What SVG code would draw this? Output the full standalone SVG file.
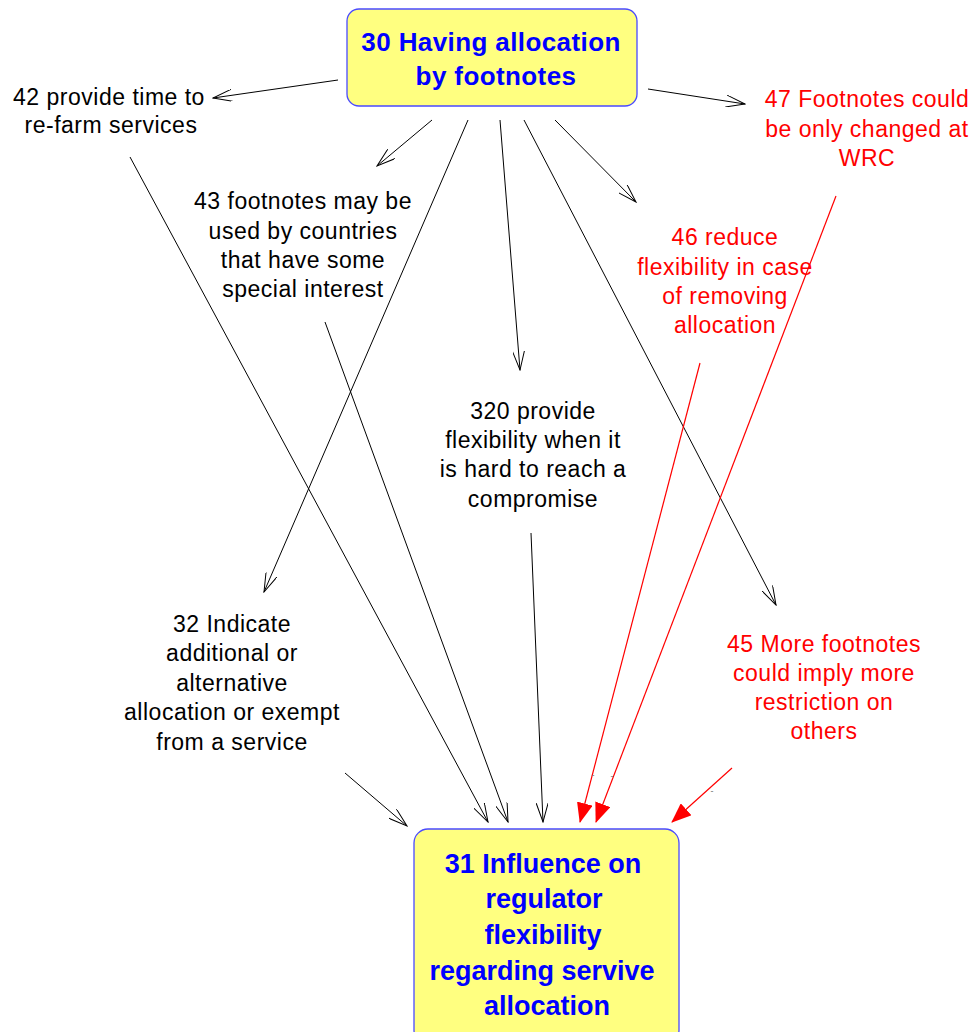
<svg xmlns="http://www.w3.org/2000/svg" width="974" height="1032" viewBox="0 0 974 1032">
  <style>
    .box { fill: #ffff80; stroke: #4a4aff; stroke-width: 1.3; }
    .title { font-family: "Liberation Sans", Arial, sans-serif; font-weight: bold; fill: #0000ff; text-anchor: middle; }
    .lbl { font-family: "Liberation Sans", Arial, sans-serif; font-size: 23px; letter-spacing: 0.5px; text-anchor: middle; }
    .blk { fill: #000000; }
    .red { fill: #ff0000; }
    .sign { font-family: "Liberation Sans", Arial, sans-serif; font-size: 9px; fill: #707070; text-anchor: middle; }
    .pos { stroke: #000000; stroke-width: 1; fill: none; marker-end: url(#open); }
    .neg { stroke: #ff0000; stroke-width: 1.2; fill: none; marker-end: url(#solid); }
  </style>
  <defs>
    <marker id="open" viewBox="0 0 20 12" refX="19" refY="6" markerWidth="20" markerHeight="12" markerUnits="userSpaceOnUse" orient="auto">
      <path d="M0,0 L19,6 L0,12" fill="none" stroke="#000000" stroke-width="1"/>
    </marker>
    <marker id="solid" viewBox="0 0 20 16" refX="19" refY="8" markerWidth="20" markerHeight="16" markerUnits="userSpaceOnUse" orient="auto">
      <path d="M0,0 L20,8 L0,16 Z" fill="#ff0000"/>
    </marker>
  </defs>

  <g id="connectors">
    <line class="pos" x1="338" y1="80" x2="213" y2="98"/>
    <line class="pos" x1="432" y1="120" x2="377" y2="166"/>
    <line class="pos" x1="468" y1="120" x2="264" y2="592"/>
    <line class="pos" x1="500" y1="120" x2="520" y2="370"/>
    <line class="pos" x1="555" y1="120" x2="636" y2="202"/>
    <line class="pos" x1="524" y1="120" x2="776" y2="605"/>
    <line class="pos" x1="648" y1="89" x2="745" y2="104"/>
    <line class="pos" x1="130" y1="157" x2="488" y2="822"/>
    <line class="pos" x1="325" y1="322" x2="508" y2="822"/>
    <line class="pos" x1="531" y1="533" x2="543" y2="822"/>
    <line class="pos" x1="345" y1="773" x2="407" y2="826"/>
    <line class="neg" x1="700" y1="363" x2="580" y2="822"/>
    <line class="neg" x1="836" y1="196" x2="596" y2="822"/>
    <line class="neg" x1="732" y1="768" x2="672" y2="822"/>
    <text class="sign" x="593" y="778">-</text>
    <text class="sign" x="612" y="779">-</text>
    <text class="sign" x="712" y="794">-</text>
  </g>

  <g id="n30">
    <rect class="box" x="347" y="9" width="290" height="97" rx="12"/>
    <text class="title" font-size="26" letter-spacing="0.4" x="491" y="51">30 Having allocation</text>
    <text class="title" font-size="26" letter-spacing="0.4" x="496" y="85">by footnotes</text>
  </g>

  <g id="n31">
    <rect class="box" x="414" y="829" width="265" height="215" rx="14"/>
    <text class="title" font-size="27" x="543" y="873">31 Influence on</text>
    <text class="title" font-size="27" x="544" y="908">regulator</text>
    <text class="title" font-size="27" x="543" y="944">flexibility</text>
    <text class="title" font-size="27" x="542" y="980">regarding servive</text>
    <text class="title" font-size="27" x="547" y="1015">allocation</text>
  </g>

  <g id="n42" class="lbl blk">
    <text x="109" y="105">42 provide time to</text>
    <text x="111" y="133">re-farm services</text>
  </g>

  <g id="n43" class="lbl blk">
    <text x="303" y="209">43 footnotes may be</text>
    <text x="303" y="239">used by countries</text>
    <text x="303" y="268">that have some</text>
    <text x="303" y="297">special interest</text>
  </g>

  <g id="n320" class="lbl blk">
    <text x="533" y="419">320 provide</text>
    <text x="533" y="448">flexibility when it</text>
    <text x="533" y="477">is hard to reach a</text>
    <text x="533" y="507">compromise</text>
  </g>

  <g id="n32" class="lbl blk">
    <text x="232" y="632">32 Indicate</text>
    <text x="232" y="661">additional or</text>
    <text x="232" y="691">alternative</text>
    <text x="232" y="720">allocation or exempt</text>
    <text x="232" y="750">from a service</text>
  </g>

  <g id="n47" class="lbl red">
    <text x="867" y="107">47 Footnotes could</text>
    <text x="867" y="137">be only changed at</text>
    <text x="867" y="166">WRC</text>
  </g>

  <g id="n46" class="lbl red">
    <text x="725" y="245">46 reduce</text>
    <text x="725" y="275">flexibility in case</text>
    <text x="725" y="304">of removing</text>
    <text x="725" y="333">allocation</text>
  </g>

  <g id="n45" class="lbl red">
    <text x="824" y="652">45 More footnotes</text>
    <text x="824" y="681">could imply more</text>
    <text x="824" y="710">restriction on</text>
    <text x="824" y="739">others</text>
  </g>
</svg>
